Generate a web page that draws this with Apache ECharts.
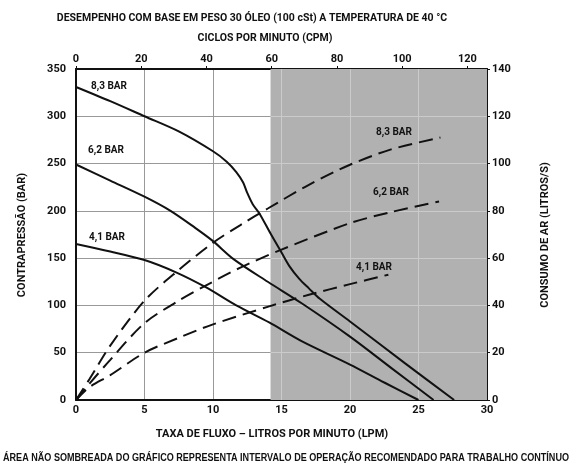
<!DOCTYPE html>
<html>
<head>
<meta charset="utf-8">
<script src="https://cdn.jsdelivr.net/npm/echarts@6/dist/echarts.min.js"></script>
<style>html,body{margin:0;padding:0;background:#fff}#c{width:571px;height:466px}</style>
</head>
<body>
<div id="c"></div>
<script>
// ---- data ----
const lpmTicks = [0, 5, 10, 15, 20, 25, 30];
const cpmTicks = [0, 20, 40, 60, 80, 100, 120];
const pressureTicks = [0, 50, 100, 150, 200, 250, 300, 350];
const airTicks = [0, 20, 40, 60, 80, 100, 120, 140];
const shadeStartLpm = 14.2;

// back pressure (bar) vs flow (LPM)
const bp83 = [[0,331],[2.5,316],[5,300],[7.5,284],[10,263],[11,252],[11.7,241],[12.2,230],[12.5,219],[12.9,207],[13.4,197],[14.2,176],[15,156],[15.6,141],[16.3,128],[17,118],[17.8,107],[20,83],[24,39],[27.6,0]];
const bp62 = [[0,249],[2.5,232],[5,215],[6.9,200],[8.7,182],[10,168],[11.5,149],[14,125],[16.5,102],[20,67],[23,34],[26.1,0]];
const bp41 = [[0,165],[2.5,157],[5,148],[7.3,135],[9.5,119],[11.7,100],[14.1,82],[16.5,62],[20,37.5],[22.5,18.5],[25,0]];

// air consumption (L/s) vs flow (LPM)
const air83 = [[0,0],[1,9],[2.5,23],[5,42],[7.5,55],[10,66.5],[12,74],[14,81],[17,91],[20,99.5],[23,106],[26.6,111]];
const air62 = [[0,0],[1,7],[2.5,17],[5,32.5],[7.5,42],[9.5,48.5],[12,56],[15,63.6],[20,74.8],[23,79.5],[26.5,84]];
const air41 = [[0,0],[1,5.5],[2.5,10.5],[5,20],[7.5,26.3],[10,32],[14.1,39.6],[17,44.5],[20,49],[22.8,53]];

const seriesNames = ['8,3 BAR', '6,2 BAR', '4,1 BAR'];

// ---- chart ----
const FONT = 'Roboto';
const chart = echarts.init(document.getElementById('c'), null, {renderer: 'canvas'});
const lbl = {color: '#111', fontWeight: 'bold', fontSize: 11, fontFamily: FONT};

const shadeGrid = [];
lpmTicks.filter(v => v > shadeStartLpm && v < 30).forEach(v => shadeGrid.push([{coord: [v, 0]}, {coord: [v, 350]}]));
pressureTicks.filter(v => v > 0 && v < 350).forEach(v => shadeGrid.push([{coord: [shadeStartLpm, v]}, {coord: [30, v]}]));

function solid(name, data) {
  return {name, type: 'line', xAxisIndex: 0, yAxisIndex: 0, data, smooth: 0.3, symbol: 'none', z: 5,
    lineStyle: {color: '#111', width: 2}};
}
function dashed(name, data) {
  return {name, type: 'line', xAxisIndex: 0, yAxisIndex: 1, data, smooth: 0.3, symbol: 'none', z: 5,
    lineStyle: {color: '#111', width: 2, type: [14, 7]}};
}

// fit text to a target width (horizontal squeeze)
const mctx = document.createElement('canvas').getContext('2d');
function fitScale(text, font, width) {
  mctx.font = font;
  const w = mctx.measureText(text).width;
  return Math.min(1, width / w);
}

const option = {
  animation: false,
  backgroundColor: '#fff',
  grid: {left: 76, right: 84, top: 69, bottom: 66, containLabel: false},
  xAxis: [
    {type: 'value', position: 'bottom', min: 0, max: 30, interval: 5,
     axisLine: {show: true, onZero: false, lineStyle: {color: '#111', width: 2}},
     axisTick: {show: false},
     axisLabel: Object.assign({margin: 5}, lbl),
     splitLine: {show: true, lineStyle: {color: '#999', width: 1}}},
    {type: 'value', position: 'top', min: 0, max: 126, interval: 20,
     axisLine: {show: true, onZero: false, lineStyle: {color: '#111', width: 2}},
     axisTick: {show: true, length: 3, lineStyle: {color: '#111'}},
     axisLabel: Object.assign({margin: 4, showMaxLabel: false}, lbl),
     splitLine: {show: false}}
  ],
  yAxis: [
    {type: 'value', position: 'left', min: 0, max: 350, interval: 50,
     axisLine: {show: true, onZero: false, lineStyle: {color: '#111', width: 2}},
     axisTick: {show: false},
     axisLabel: Object.assign({margin: 10}, lbl),
     splitLine: {show: true, lineStyle: {color: '#999', width: 1}}},
    {type: 'value', position: 'right', min: 0, max: 140, interval: 20,
     axisLine: {show: true, onZero: false, lineStyle: {color: '#111', width: 2}},
     axisTick: {show: true, length: 3, lineStyle: {color: '#111'}},
     axisLabel: Object.assign({margin: 5}, lbl),
     splitLine: {show: false}}
  ],
  series: [
    {type: 'line', xAxisIndex: 0, yAxisIndex: 0, data: [], z: 1, silent: true,
     markArea: {silent: true, itemStyle: {color: '#b1b1b1'}, data: [[{coord: [shadeStartLpm, 0]}, {coord: [30, 350]}]]},
     markLine: {silent: true, symbol: 'none', label: {show: false}, lineStyle: {color: '#cbcbcb', width: 1, type: 'solid'}, data: shadeGrid}},
    solid(seriesNames[0], bp83), solid(seriesNames[1], bp62), solid(seriesNames[2], bp41),
    dashed(seriesNames[0], air83), dashed(seriesNames[1], air62), dashed(seriesNames[2], air41)
  ]
};

const T = (x, y, text, font, extra) => Object.assign({type: 'text', x, y, silent: true, z: 10,
  style: {text, fill: '#111', font, textAlign: 'center', textVerticalAlign: 'middle'}}, extra || {});

const titleFont = 'bold 10.5px ' + FONT;
const footText = 'ÁREA NÃO SOMBREADA DO GRÁFICO REPRESENTA INTERVALO DE OPERAÇÃO RECOMENDADO PARA TRABALHO CONTÍNUO';
const footFont = 'bold 11.5px "Liberation Sans", Arial';
const titleText = 'DESEMPENHO COM BASE EM PESO 30 ÓLEO (100 cSt) A TEMPERATURA DE 40 °C';

option.graphic = [
  T(252, 18, titleText, titleFont, {scaleX: fitScale(titleText, titleFont, 407)}),
  T(265, 38, 'CICLOS POR MINUTO (CPM)', titleFont),
  T(272, 434, 'TAXA DE FLUXO – LITROS POR MINUTO (LPM)', 'bold 11px ' + FONT),
  T(286, 458, footText, footFont, {scaleX: fitScale(footText, footFont, 566)}),
  T(22, 235, 'CONTRAPRESSÃO (BAR)', 'bold 11px ' + FONT, {rotation: Math.PI / 2}),
  T(545, 235, 'CONSUMO DE AR (LITROS/S)', 'bold 11px ' + FONT, {rotation: Math.PI / 2}),
  T(109, 86, seriesNames[0], 'bold 10px ' + FONT),
  T(106, 150, seriesNames[1], 'bold 10px ' + FONT),
  T(107, 237, seriesNames[2], 'bold 10px ' + FONT),
  T(394, 132, seriesNames[0], 'bold 10px ' + FONT),
  T(391, 192, seriesNames[1], 'bold 10px ' + FONT),
  T(374, 267, seriesNames[2], 'bold 10px ' + FONT)
];

chart.setOption(option);
</script>
</body>
</html>
